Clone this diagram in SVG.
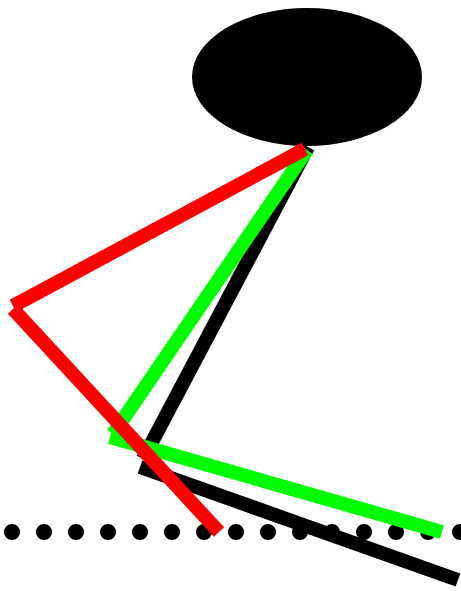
<svg xmlns="http://www.w3.org/2000/svg" width="461" height="591" viewBox="0 0 461 591">
<style>
.seg{stroke-width:14;stroke-linecap:butt;fill:none}
.k{stroke:#000}
.g{stroke:#00ff00}
.r{stroke:#ff0000}
</style>
<rect width="461" height="591" fill="#fff"/>
<line x1="12" y1="532" x2="470" y2="532" stroke="#000" stroke-width="16" stroke-linecap="round" stroke-dasharray="0 32"/>
<ellipse cx="307" cy="77" rx="115" ry="69" fill="#000"/>
<g id="black">
<line class="seg k" x1="308" y1="147" x2="143" y2="459"/>
<line class="seg k" x1="140" y1="467" x2="458" y2="580"/>
</g>
<g id="green">
<line class="seg g" x1="307" y1="150" x2="113" y2="434"/>
<line class="seg g" x1="110" y1="437" x2="442" y2="532"/>
</g>
<g id="red">
<line class="seg r" x1="305" y1="149" x2="13" y2="306"/>
<line class="seg r" x1="13" y1="309" x2="219" y2="532"/>
</g>
</svg>
